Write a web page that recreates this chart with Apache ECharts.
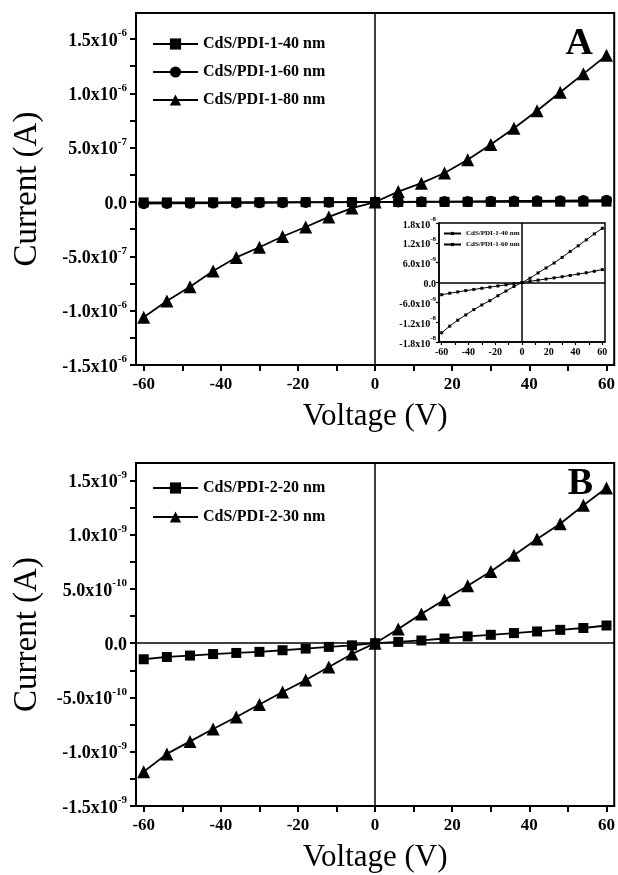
<!DOCTYPE html>
<html>
<head>
<meta charset="utf-8">
<script src="https://cdn.jsdelivr.net/npm/echarts@6/dist/echarts.min.js"></script>
<style>
html, body { margin: 0; padding: 0; background: #fff; }
#chart { width: 618px; height: 875px; }
</style>
</head>
<body>
<div id="chart"></div>
<script>
// voltage sweep (V), shared by every curve
const voltage = [-60, -54, -48, -42, -36, -30, -24, -18, -12, -6, 0, 6, 12, 18, 24, 30, 36, 42, 48, 54, 60];

// panel A (A)
const pdi1_40 = [-3.7e-9, -3.25e-9, -2.85e-9, -2.45e-9, -2.1e-9, -1.75e-9, -1.4e-9, -1.05e-9, -0.7e-9, -0.35e-9, 0,
  0.35e-9, 0.7e-9, 1.05e-9, 1.4e-9, 1.75e-9, 2.15e-9, 2.55e-9, 2.95e-9, 3.4e-9, 3.9e-9];
const pdi1_60 = [-15.2e-9, -13.2e-9, -11.4e-9, -9.8e-9, -8.2e-9, -6.8e-9, -5.5e-9, -4.0e-9, -2.6e-9, -1.2e-9, 0,
  1.3e-9, 2.9e-9, 4.4e-9, 5.9e-9, 7.6e-9, 9.4e-9, 11.1e-9, 12.9e-9, 14.7e-9, 16.4e-9];
const pdi1_80 = [-1.06e-6, -0.91e-6, -0.78e-6, -0.635e-6, -0.51e-6, -0.416e-6, -0.317e-6, -0.23e-6, -0.137e-6, -0.056e-6, 0,
  0.096e-6, 0.174e-6, 0.267e-6, 0.39e-6, 0.53e-6, 0.68e-6, 0.84e-6, 1.01e-6, 1.18e-6, 1.35e-6];

// panel B (A)
const pdi2_20 = [-0.148e-9, -0.127e-9, -0.114e-9, -0.10e-9, -0.09e-9, -0.08e-9, -0.065e-9, -0.05e-9, -0.034e-9, -0.02e-9, 0,
  0.012e-9, 0.025e-9, 0.043e-9, 0.062e-9, 0.077e-9, 0.093e-9, 0.108e-9, 0.123e-9, 0.14e-9, 0.163e-9];
const pdi2_30 = [-1.185e-9, -1.02e-9, -0.905e-9, -0.79e-9, -0.68e-9, -0.565e-9, -0.45e-9, -0.34e-9, -0.22e-9, -0.10e-9, 0,
  0.13e-9, 0.27e-9, 0.40e-9, 0.53e-9, 0.66e-9, 0.81e-9, 0.96e-9, 1.10e-9, 1.27e-9, 1.43e-9];

// ticks
const xLabels = [-60, -40, -20, 0, 20, 40, 60];
const xTicks = [-60, -50, -40, -30, -20, -10, 0, 10, 20, 30, 40, 50, 60];
const yLabelsA = [-1.5e-6, -1.0e-6, -5.0e-7, 0, 5.0e-7, 1.0e-6, 1.5e-6];
const yTicksA = [-1.5e-6, -1.25e-6, -1.0e-6, -7.5e-7, -5.0e-7, -2.5e-7, 0, 2.5e-7, 5.0e-7, 7.5e-7, 1.0e-6, 1.25e-6, 1.5e-6];
const yLabelsB = [-1.5e-9, -1.0e-9, -5.0e-10, 0, 5.0e-10, 1.0e-9, 1.5e-9];
const yTicksB = [-1.5e-9, -1.25e-9, -1.0e-9, -7.5e-10, -5.0e-10, -2.5e-10, 0, 2.5e-10, 5.0e-10, 7.5e-10, 1.0e-9, 1.25e-9, 1.5e-9];
const yLabelsIn = [-1.8e-8, -1.2e-8, -6.0e-9, 0, 6.0e-9, 1.2e-8, 1.8e-8];

const FONT = '"Liberation Serif", "Times New Roman", serif';

const sci = (v) => {
  if (Math.abs(v) < 1e-15) return '{m|0.0}';
  const e = Math.floor(Math.log10(Math.abs(v)) + 1e-9);
  const m = (v / Math.pow(10, e)).toFixed(1);
  return `{m|${m}x10}{e|${e}}`;
};

const pairs = (ys) => voltage.map((x, i) => [x, ys[i]]);

const richLabel = (size, sup, margin, labels) => ({
  customValues: labels,
  margin: margin,
  formatter: sci,
  rich: {
    m: { fontFamily: FONT, fontWeight: 'bold', fontSize: size, color: '#000', lineHeight: size + 4, verticalAlign: 'bottom' },
    e: { fontFamily: FONT, fontWeight: 'bold', fontSize: sup, color: '#000', lineHeight: sup, verticalAlign: 'top' }
  }
});

const axisLine = { show: true, onZero: false, lineStyle: { color: '#000', width: 2 } };

const xAxisMain = (gi) => ({
  gridIndex: gi, type: 'value', min: -62, max: 62,
  name: 'Voltage (V)', nameLocation: 'middle', nameGap: 36,
  nameTextStyle: { fontFamily: FONT, fontSize: 31, color: '#000' },
  axisLine: axisLine,
  axisTick: { show: true, customValues: xTicks, length: 6, lineStyle: { color: '#000', width: 2 } },
  axisLabel: { customValues: xLabels, margin: 11, fontFamily: FONT, fontWeight: 'bold', fontSize: 17, color: '#000' },
  splitLine: { show: false }
});

const yAxisMain = (gi, min, max, labels, ticks) => ({
  gridIndex: gi, type: 'value', min: min, max: max,
  name: 'Current (A)', nameLocation: 'middle', nameGap: 92,
  nameTextStyle: { fontFamily: FONT, fontSize: 33, color: '#000' },
  axisLine: axisLine,
  axisTick: { show: true, customValues: ticks, length: 6, lineStyle: { color: '#000', width: 2 } },
  axisLabel: richLabel(18, 11, 9, labels),
  splitLine: { show: false }
});

const zeroLine = (data) => ({
  silent: true, symbol: 'none', animation: false,
  label: { show: false },
  lineStyle: { color: '#000', width: 1.5, type: 'solid' },
  data: data
});

const lineSeries = (name, xi, ys, symbol, size, extra) => Object.assign({
  name: name, type: 'line', xAxisIndex: xi, yAxisIndex: xi,
  data: pairs(ys), symbol: symbol, symbolSize: size, showAllSymbol: true,
  lineStyle: { color: '#000', width: 1.8 },
  itemStyle: { color: '#000' },
  animation: false
}, extra || {});

const legendText = { fontFamily: FONT, fontWeight: 'bold', fontSize: 16, color: '#000' };

const chart = echarts.init(document.getElementById('chart'));

const option = {
  backgroundColor: '#fff',
  title: [
    { text: 'A', right: 25, top: 25, padding: 0, textStyle: { fontFamily: FONT, fontWeight: 'bold', fontSize: 38, color: '#000' } },
    { text: 'B', right: 25, top: 465, padding: 0, textStyle: { fontFamily: FONT, fontWeight: 'bold', fontSize: 38, color: '#000' } }
  ],
  legend: [
    {
      data: ['CdS/PDI-1-40 nm', 'CdS/PDI-1-60 nm', 'CdS/PDI-1-80 nm'],
      orient: 'vertical', left: 152, top: 36, itemGap: 12, itemWidth: 45, itemHeight: 14,
      padding: 0, selectedMode: false, textStyle: legendText
    },
    {
      data: ['CdS/PDI-2-20 nm', 'CdS/PDI-2-30 nm'],
      orient: 'vertical', left: 152, top: 480, itemGap: 13, itemWidth: 45, itemHeight: 14,
      padding: 0, selectedMode: false, textStyle: legendText
    },
    {
      data: ['inset-40', 'inset-60'],
      formatter: (n) => n === 'inset-40' ? 'CdS/PDI-1-40 nm' : 'CdS/PDI-1-60 nm',
      orient: 'vertical', left: 443, top: 230, itemGap: 4, itemWidth: 17, itemHeight: 4,
      padding: 0, selectedMode: false,
      textStyle: { fontFamily: FONT, fontWeight: 'bold', fontSize: 7, color: '#000' }
    }
  ],
  grid: [
    { left: 136, top: 13, width: 479, height: 352, show: true, borderColor: '#000', borderWidth: 2, backgroundColor: 'transparent' },
    { left: 136, top: 463, width: 479, height: 343, show: true, borderColor: '#000', borderWidth: 2, backgroundColor: 'transparent' },
    { left: 439, top: 223, width: 166, height: 119, show: true, borderColor: '#000', borderWidth: 1.5, backgroundColor: '#fff' }
  ],
  xAxis: [
    xAxisMain(0),
    xAxisMain(1),
    {
      gridIndex: 2, type: 'value', min: -62, max: 62,
      axisLine: { show: true, onZero: false, lineStyle: { color: '#000', width: 1.5 } },
      axisTick: { show: true, customValues: xTicks, length: 3, lineStyle: { color: '#000', width: 1.2 } },
      axisLabel: { customValues: xLabels, margin: 5, fontFamily: FONT, fontWeight: 'bold', fontSize: 10, color: '#000' },
      splitLine: { show: false }
    }
  ],
  yAxis: [
    yAxisMain(0, -1.5e-6, 1.74e-6, yLabelsA, yTicksA),
    yAxisMain(1, -1.5e-9, 1.66e-9, yLabelsB, yTicksB),
    {
      gridIndex: 2, type: 'value', min: -1.8e-8, max: 1.8e-8,
      axisLine: { show: true, onZero: false, lineStyle: { color: '#000', width: 1.5 } },
      axisTick: { show: true, customValues: yLabelsIn, length: 3, lineStyle: { color: '#000', width: 1.2 } },
      axisLabel: richLabel(10, 7, 3, yLabelsIn),
      splitLine: { show: false }
    }
  ],
  series: [
    lineSeries('CdS/PDI-1-40 nm', 0, pdi1_40, 'rect', 10, { markLine: zeroLine([{ xAxis: 0 }]) }),
    lineSeries('CdS/PDI-1-60 nm', 0, pdi1_60, 'circle', 11),
    lineSeries('CdS/PDI-1-80 nm', 0, pdi1_80, 'triangle', 13),
    lineSeries('CdS/PDI-2-20 nm', 1, pdi2_20, 'rect', 10, { markLine: zeroLine([{ xAxis: 0 }, { yAxis: 0 }]), z: 3 }),
    lineSeries('CdS/PDI-2-30 nm', 1, pdi2_30, 'triangle', 13),
    lineSeries('inset-40', 2, pdi1_40, 'rect', 3, { lineStyle: { color: '#000', width: 1 }, markLine: zeroLine([{ xAxis: 0 }, { yAxis: 0 }]) }),
    lineSeries('inset-60', 2, pdi1_60, 'rect', 3, { lineStyle: { color: '#000', width: 1 } })
  ]
};

chart.setOption(option);
</script>
</body>
</html>
